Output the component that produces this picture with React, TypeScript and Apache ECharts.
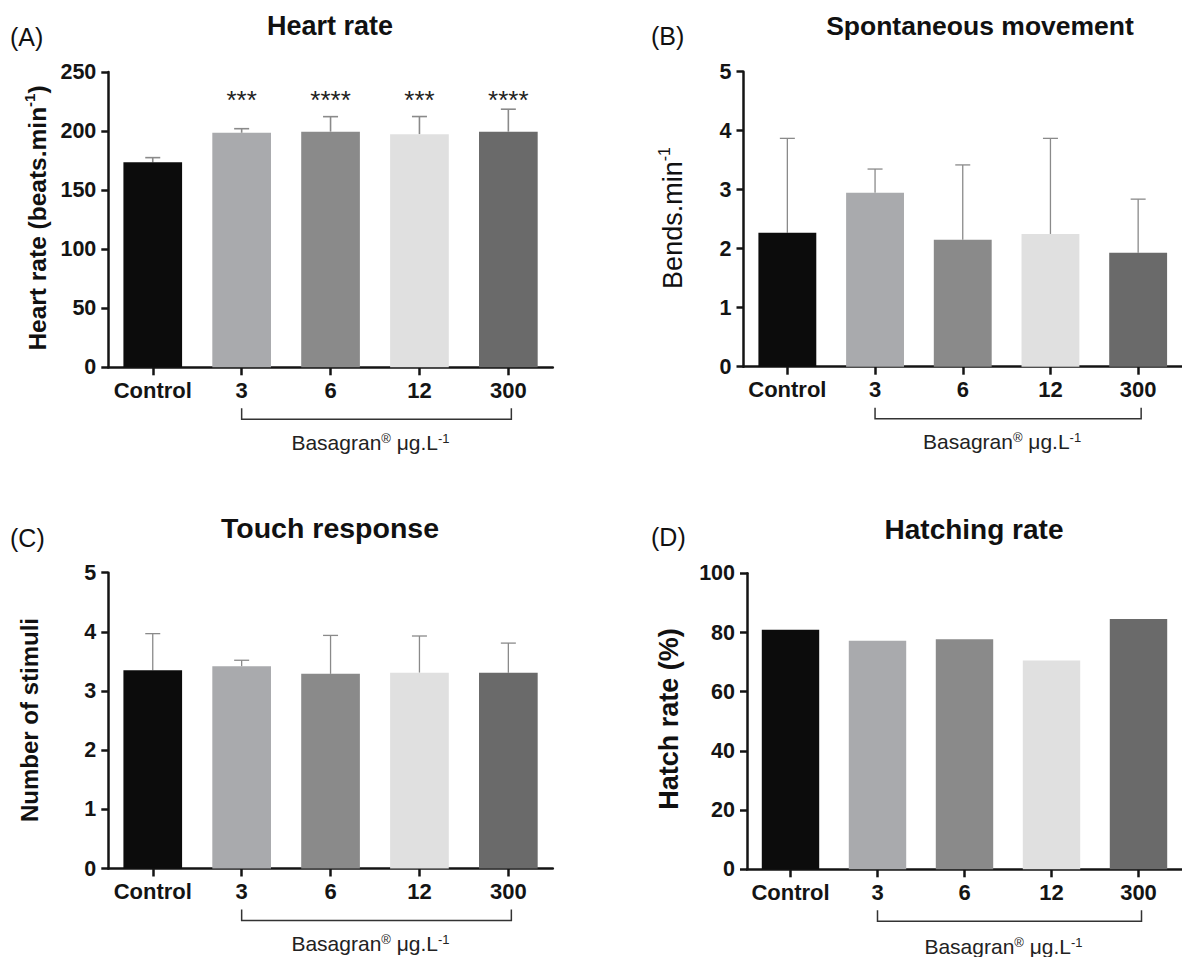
import React, { useEffect, useRef } from "react";
import * as echarts from "echarts";

const categories = ["Control", "3", "6", "12", "300"];
const barColors = ["#0c0c0c", "#a9aaad", "#8a8a8a", "#e0e0e0", "#6a6a6a"];

const heartMean = [173.5, 198.5, 199.5, 197.3, 199.5];
const heartSD = [4, 3.5, 12.7, 15, 19];
const heartStars = ["", "***", "****", "***", "****"];

const bendsMean = [2.27, 2.95, 2.15, 2.25, 1.93];
const bendsSD = [1.6, 0.4, 1.27, 1.62, 0.91];

const touchMean = [3.35, 3.42, 3.29, 3.31, 3.31];
const touchSD = [0.62, 0.1, 0.65, 0.62, 0.5];

const hatchMean = [80.9, 77.2, 77.7, 70.5, 84.6];

const FONT = '"Liberation Sans", Arial, Helvetica, sans-serif';
const INK = "#141414";

const panels = [
  { key: "A", title: "Heart rate", mean: heartMean, sd: heartSD, max: 250, interval: 50,
    grid: { left: 108.3, top: 72, width: 444.5, height: 295.3 }, errW: 1.6, lbl: 75 },
  { key: "B", title: "Spontaneous movement", mean: bendsMean, sd: bendsSD, max: 5, interval: 1,
    grid: { left: 743.5, top: 71.7, width: 446.5, height: 295 }, errW: 1.3, lbl: 75 },
  { key: "C", title: "Touch response", mean: touchMean, sd: touchSD, max: 5, interval: 1,
    grid: { left: 108.3, top: 572.7, width: 444.5, height: 295.8 }, errW: 1.3, lbl: 75 },
  { key: "D", title: "Hatching rate", mean: hatchMean, sd: null as number[] | null, max: 100, interval: 20,
    grid: { left: 747, top: 573.3, width: 445, height: 296 }, errW: 1.3, lbl: 77 },
];

function App() {
  const ref = useRef<HTMLDivElement>(null);
  useEffect(() => {
    if (!ref.current) return;
    const chart = echarts.init(ref.current, undefined, { renderer: "svg" });

    const series: any[] = [];
    panels.forEach((p, i) => {
      series.push({
        type: "bar",
        xAxisIndex: i,
        yAxisIndex: i,
        barWidth: "66%",
        silent: true,
        data: p.mean.map((v, k) => ({ value: v, itemStyle: { color: barColors[k] } })),
      });
      if (p.sd) {
        const sd = p.sd;
        series.push({
          type: "custom",
          xAxisIndex: i,
          yAxisIndex: i,
          clip: false,
          silent: true,
          data: p.mean.map((v, k) => [k, v, sd[k]]),
          renderItem: (params: any, api: any) => {
            const k = api.value(0);
            const m = api.value(1);
            const s = api.value(2);
            const b = api.coord([k, m]);
            const t = api.coord([k, m + s]);
            const st = { stroke: "#8a8a8a", lineWidth: p.errW };
            return {
              type: "group",
              children: [
                { type: "line", shape: { x1: b[0], y1: b[1], x2: t[0], y2: t[1] }, style: st },
                { type: "line", shape: { x1: t[0] - 7.5, y1: t[1], x2: t[0] + 7.5, y2: t[1] }, style: st },
              ],
            };
          },
        });
      }
      // bracket under treatment groups
      series.push({
        type: "custom",
        xAxisIndex: i,
        yAxisIndex: i,
        clip: false,
        silent: true,
        data: [[1, 0]],
        renderItem: (params: any, api: any) => {
          const a = api.coord([1, 0]);
          const b = api.coord([4, 0]);
          const y0 = a[1];
          const xr = b[0] + 3;
          return {
            type: "group",
            children: [
              {
                type: "polyline",
                shape: { points: [[a[0], y0 + 41], [a[0], y0 + 52], [xr, y0 + 52], [xr, y0 + 41]] },
                style: { stroke: "#333", lineWidth: 1.5, fill: null },
              },
              {
                type: "text",
                x: (a[0] + xr) / 2 - 6,
                y: y0 + p.lbl,
                style: {
                  text: "{a|Basagran}{s|®}{a| μg.L}{s|-1}",
                  align: "center",
                  verticalAlign: "middle",
                  fill: "#222",
                  fontFamily: FONT,
                  fontSize: 21,
                  rich: {
                    a: { fontSize: 21, fontFamily: FONT, fill: "#222", lineHeight: 21 },
                    s: { fontSize: 13, fontFamily: FONT, fill: "#222", verticalAlign: "top", lineHeight: 12 },
                  },
                },
              },
            ],
          };
        },
      });
    });

    // significance stars (panel A)
    series.push({
      type: "custom",
      xAxisIndex: 0,
      yAxisIndex: 0,
      clip: false,
      silent: true,
      data: heartStars.map((s, k) => [k, 226]),
      renderItem: (params: any, api: any) => {
        const c = api.coord([api.value(0), api.value(1)]);
        return {
          type: "text",
          x: c[0],
          y: c[1],
          style: {
            text: heartStars[params.dataIndex],
            align: "center",
            verticalAlign: "middle",
            fontSize: 26,
            fontFamily: FONT,
            fill: "#222",
          },
        };
      },
    });

    const titleStyle = (t: string, size: number) => ({
      text: t,
      align: "center",
      verticalAlign: "middle",
      fontSize: size,
      fontWeight: "bold",
      fontFamily: FONT,
      fill: "#111",
    });
    const tagStyle = (t: string) => ({
      text: t,
      align: "left",
      verticalAlign: "middle",
      fontSize: 25,
      fontFamily: FONT,
      fill: "#111",
    });
    const richName = (text: string, size: number, weight: string) => ({
      text,
      align: "center",
      verticalAlign: "middle",
      fill: "#111",
      fontFamily: FONT,
      fontSize: size,
      fontWeight: weight,
      rich: {
        b: { fontSize: size, fontWeight: weight, fontFamily: FONT, fill: "#111", lineHeight: size + 6 },
        s: { fontSize: Math.round(size * 0.6), fontWeight: weight, fontFamily: FONT, fill: "#111", verticalAlign: "top", lineHeight: 14 },
      },
    });

    const graphic: any[] = [
      { type: "text", x: 330, y: 26, style: titleStyle("Heart rate", 27) },
      { type: "text", x: 980, y: 26, style: titleStyle("Spontaneous movement", 26.5) },
      { type: "text", x: 330, y: 528, style: titleStyle("Touch response", 28.5) },
      { type: "text", x: 974, y: 529, style: titleStyle("Hatching rate", 28) },
      { type: "text", x: 10, y: 37, style: tagStyle("(A)") },
      { type: "text", x: 651, y: 36, style: tagStyle("(B)") },
      { type: "text", x: 10, y: 538, style: tagStyle("(C)") },
      { type: "text", x: 651, y: 537, style: tagStyle("(D)") },
      { type: "text", x: 37, y: 218, rotation: Math.PI / 2, style: richName("{b|Heart rate (beats.min}{s|-1}{b|)}", 24.5, "bold") },
      { type: "text", x: 673, y: 218, rotation: Math.PI / 2, style: richName("{b|Bends.min}{s|-1}", 27, "normal") },
      { type: "text", x: 29, y: 720, rotation: Math.PI / 2, style: richName("{b|Number of stimuli}", 24, "bold") },
      { type: "text", x: 669, y: 719, rotation: Math.PI / 2, style: richName("{b|Hatch rate (%)}", 27, "bold") },
    ];

    const option: any = {
      animation: false,
      backgroundColor: "#ffffff",
      grid: panels.map((p) => ({ ...p.grid, containLabel: false })),
      xAxis: panels.map((p, i) => ({
        type: "category",
        gridIndex: i,
        data: categories,
        boundaryGap: true,
        axisLine: { show: true, lineStyle: { color: INK, width: 2.5 } },
        axisTick: { show: true, alignWithLabel: true, length: 8, lineStyle: { color: INK, width: 2.5 } },
        axisLabel: { interval: 0, margin: 12, fontSize: 22, fontWeight: "bold", color: INK, fontFamily: FONT },
        splitLine: { show: false },
      })),
      yAxis: panels.map((p, i) => ({
        type: "value",
        gridIndex: i,
        min: 0,
        max: p.max,
        interval: p.interval,
        axisLine: { show: true, lineStyle: { color: INK, width: 2.5 } },
        axisTick: { show: true, length: 7, lineStyle: { color: INK, width: 2.5 } },
        axisLabel: { margin: 12, fontSize: 21.5, fontWeight: "bold", color: INK, fontFamily: FONT },
        splitLine: { show: false },
      })),
      graphic,
      series,
    };
    chart.setOption(option);
    return () => chart.dispose();
  }, []);

  return (
    <div
      ref={ref}
      style={{ position: "absolute", left: 0, top: 0, width: 1182, height: 957, background: "#fff" }}
    />
  );
}

export default App;
